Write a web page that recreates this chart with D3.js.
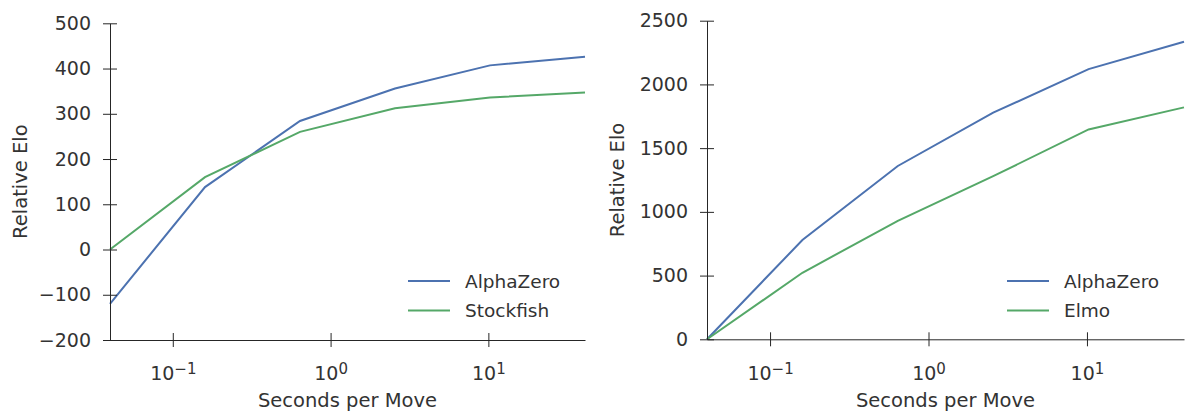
<!DOCTYPE html>
<html>
	<head>
		<title>Relative Elo vs thinking time</title>
		<style>
			body,
			html {
				margin: 0;
				padding: 0;
				background: #fff;
			}
			text {
				font-family: 'DejaVu Sans', sans-serif;
				fill: #333;
			}
		</style>
	</head>
	<body>
		<svg id="svg" width="1185" height="411"></svg>

		<script src="https://d3js.org/d3.v7.min.js"></script>
		<script>
			// seconds per move (log axis)
			const moveTimes = [0.04, 0.16, 0.64, 2.56, 10.24, 40.96];
			const xTickValues = [0.1, 1, 10];
			const xTickExponents = ['-1', '0', '1'];

			// chess
			const chessAlphaZero = [-120, 138, 284, 356, 407, 426];
			const chessStockfish = [0, 160, 260, 312, 336, 347];
			const chessYTicks = [-200, -100, 0, 100, 200, 300, 400, 500];

			// shogi
			const shogiAlphaZero = [0, 779, 1360, 1778, 2120, 2335];
			const shogiElmo = [0, 522, 930, 1280, 1647, 1820];
			const shogiYTicks = [0, 500, 1000, 1500, 2000, 2500];

			const blue = '#4C72B0';
			const green = '#55A868';
			const svg = d3.select('#svg');

			function drawPanel(opts) {
				const xscale = d3
					.scaleLog()
					.domain(d3.extent(moveTimes))
					.range([opts.left, opts.right]);
				const yscale = d3
					.scaleLinear()
					.domain(d3.extent(opts.yTicks))
					.range([opts.bottom, opts.top]);

				const g = svg.append('g');

				// lines
				const linegen = d3
					.line()
					.x((d, i) => xscale(moveTimes[i]))
					.y((d) => yscale(d));
				opts.series.forEach((s) => {
					g.append('path')
						.attr('d', linegen(s.values))
						.attr('stroke', s.color)
						.attr('stroke-width', 2)
						.attr('fill', 'none');
				});

				// y axis, ticks go both in and out
				const leftAxis = d3
					.axisLeft(yscale)
					.tickValues(opts.yTicks)
					.tickSize(7)
					.tickPadding(12)
					.tickSizeOuter(0);
				const ya = g
					.append('g')
					.attr('transform', `translate(${opts.left}, 0)`)
					.call(leftAxis);
				ya.selectAll('.tick line').attr('x1', 7);
				ya.selectAll('.tick text')
					.attr('font-size', 19)
					.attr('font-family', 'DejaVu Sans')
					.text((d) => (d < 0 ? '\u2212' + Math.abs(d) : d));

				// x axis with 10^n labels
				const bottomAxis = d3
					.axisBottom(xscale)
					.tickValues(xTickValues)
					.tickSize(7)
					.tickPadding(20)
					.tickSizeOuter(0)
					.tickFormat(() => '');
				const xa = g
					.append('g')
					.attr('transform', `translate(0, ${opts.bottom})`)
					.call(bottomAxis);
				xa.selectAll('.tick line').attr('y1', -7);
				xa.selectAll('.tick text')
					.attr('font-size', 19)
					.attr('font-family', 'DejaVu Sans')
					.each(function (d, i) {
						const t = d3.select(this);
						t.append('tspan').text('10');
						t.append('tspan')
							.attr('font-size', 15)
							.attr('dy', '-0.4em')
							.text(xTickExponents[i].replace('-', '\u2212'));
					});

				[ya, xa].forEach((a) => {
					a.select('.domain').attr('stroke', '#262626');
					a.selectAll('.tick line').attr('stroke', '#262626');
				});

				// axis titles
				g.append('text')
					.attr('transform', `translate(${opts.left - 90}, ${(opts.top + opts.bottom) / 2}) rotate(-90)`)
					.attr('text-anchor', 'middle')
					.attr('dy', '0.35em')
					.attr('font-size', 19.5)
					.text('Relative Elo');
				g.append('text')
					.attr('x', (opts.left + opts.right) / 2)
					.attr('y', 407)
					.attr('text-anchor', 'middle')
					.attr('font-size', 19.5)
					.text('Seconds per Move');

				// legend
				const legend = g
					.append('g')
					.attr('transform', `translate(${opts.right - 177}, 281)`);
				opts.series.forEach((s, i) => {
					legend
						.append('line')
						.attr('x1', 0)
						.attr('x2', 42)
						.attr('y1', i * 29.5)
						.attr('y2', i * 29.5)
						.attr('stroke', s.color)
						.attr('stroke-width', 2);
					legend
						.append('text')
						.attr('x', 57)
						.attr('y', i * 29.5)
						.attr('dy', '0.36em')
						.attr('font-size', 18.5)
						.text(s.name);
				});
			}

			drawPanel({
				left: 110,
				right: 585,
				top: 23.3,
				bottom: 340,
				yTicks: chessYTicks,
				series: [
					{ name: 'AlphaZero', values: chessAlphaZero, color: blue },
					{ name: 'Stockfish', values: chessStockfish, color: green },
				],
			});

			drawPanel({
				left: 707,
				right: 1184,
				top: 20.7,
				bottom: 339.3,
				yTicks: shogiYTicks,
				series: [
					{ name: 'AlphaZero', values: shogiAlphaZero, color: blue },
					{ name: 'Elmo', values: shogiElmo, color: green },
				],
			});
		</script>
	</body>
</html>
